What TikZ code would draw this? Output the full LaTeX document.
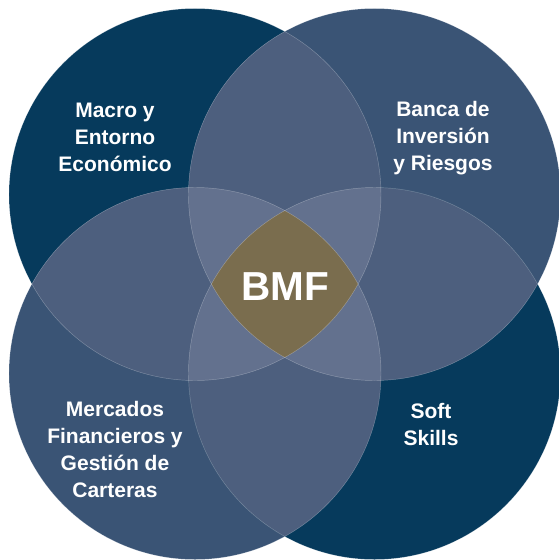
\documentclass[tikz,border=0pt]{standalone}
\usepackage{fontspec}
\setmainfont{Liberation Sans}
\definecolor{navy}{HTML}{063A5C}
\definecolor{midblue}{HTML}{3A5475}
\definecolor{pairc}{HTML}{4D5F7E}
\definecolor{triplec}{HTML}{63718E}
\definecolor{tanc}{HTML}{7A6D4E}
\begin{document}
\begin{tikzpicture}[x=1pt,y=-1pt,
  lbl/.style={text=white,font=\bfseries\fontsize{21}{27}\selectfont,align=center,inner sep=0pt,anchor=base},
  edge/.style={draw=white,draw opacity=0.3,line width=0.45pt}]
\useasboundingbox (0,0) rectangle (558,560);
\def\R{186pt}
\coordinate (tl) at (195,194.5);
\coordinate (tr) at (374.5,194.5);
\coordinate (bl) at (195,373.5);
\coordinate (br) at (374.5,373.5);
% base circles
\fill[navy] (tl) circle[radius=\R];
\fill[midblue] (tr) circle[radius=\R];
\fill[midblue] (bl) circle[radius=\R];
\fill[navy] (br) circle[radius=\R];
% pairs
\foreach \a/\b in {tl/tr,tl/bl,tr/br,bl/br,tl/br,tr/bl}{
  \begin{scope}
    \clip (\a) circle[radius=\R];
    \fill[pairc] (\b) circle[radius=\R];
  \end{scope}
}
% triples
\foreach \a/\b/\c in {tl/tr/bl,tl/tr/br,tl/bl/br,tr/bl/br}{
  \begin{scope}
    \clip (\a) circle[radius=\R];
    \clip (\b) circle[radius=\R];
    \fill[triplec] (\c) circle[radius=\R];
  \end{scope}
}
% all four
\begin{scope}
  \clip (tl) circle[radius=\R];
  \clip (tr) circle[radius=\R];
  \clip (bl) circle[radius=\R];
  \fill[tanc] (br) circle[radius=\R];
\end{scope}
% outlines
\foreach \p in {tl,tr,bl,br}{\path[edge] (\p) circle[radius=\R];}
% labels (anchored at the baseline of the last line)
\node[lbl] (macro) at (115,171) {Macro y\\Entorno\\Económico};
\node[lbl] (banca) at (443,170) {Banca de\\Inversión\\y Riesgos};
\node[lbl] (merc) at (115,497) {Mercados\\Financieros y\\Gestión de\\Carteras};
\node[lbl] (soft) at (431,445) {Soft\\Skills};
\node[text=white,font=\bfseries\fontsize{40.5}{40}\selectfont,inner sep=0pt,anchor=base] (bmf) at (285,300) {BMF};
\end{tikzpicture}
\end{document}
